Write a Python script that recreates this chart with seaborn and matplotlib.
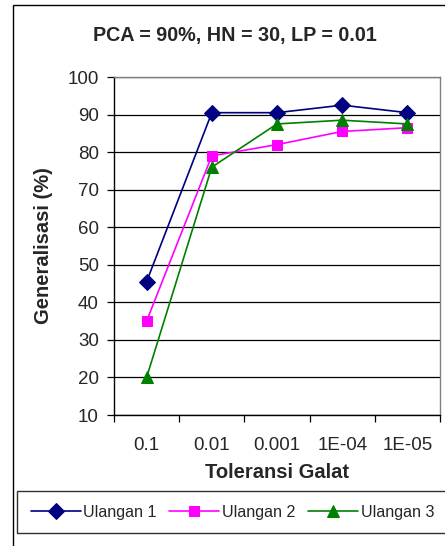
import matplotlib
matplotlib.use("Agg")
import matplotlib.pyplot as plt
from matplotlib.patches import Rectangle
from matplotlib.ticker import FixedLocator, NullFormatter
import seaborn as sns

# Error tolerance settings (x axis) and generalisation results per repetition
tolerances = ["0.1", "0.01", "0.001", "1E-04", "1E-05"]
ulangan_1 = [45.5, 90.5, 90.5, 92.5, 90.5]
ulangan_2 = [35.0, 79.0, 82.0, 85.5, 86.5]
ulangan_3 = [20.0, 76.0, 87.5, 88.5, 87.5]
series_names = ["Ulangan 1", "Ulangan 2", "Ulangan 3"]
y_ticks = [10, 20, 30, 40, 50, 60, 70, 80, 90, 100]

sns.set_style("white")
plt.rcParams["font.family"] = ["Liberation Sans", "DejaVu Sans"]

W, H = 445, 546
fig = plt.figure(figsize=(W / 100, H / 100), dpi=100)
ax = fig.add_axes([114 / W, 1 - 415 / H, (440 - 114) / W, (415 - 77) / H])

xpos = list(range(len(tolerances)))
styles = [
    (ulangan_1, "#000080", "D", 8.5),
    (ulangan_2, "#FF00FF", "s", 7.5),
    (ulangan_3, "#008000", "^", 9.0),
]
for (vals, color, marker, ms), name in zip(styles, series_names):
    sns.lineplot(x=xpos, y=vals, ax=ax, color=color, marker=marker,
                 markersize=ms, markeredgecolor=color, markerfacecolor=color,
                 linewidth=1.2, label=name, legend=False, zorder=3)

# Axes limits, gridlines and category ticks between the points
ax.set_xlim(-0.5, len(tolerances) - 0.5)
ax.set_ylim(10, 100)
ax.set_yticks(y_ticks)
ax.yaxis.grid(True, color="black", linewidth=0.9)
ax.xaxis.grid(False)
ax.set_axisbelow(True)

ax.xaxis.set_major_locator(FixedLocator([i - 0.5 for i in range(len(tolerances) + 1)]))
ax.xaxis.set_major_formatter(NullFormatter())
ax.xaxis.set_minor_locator(FixedLocator(xpos))
ax.set_xticklabels(tolerances, minor=True)
ax.tick_params(axis="x", which="major", direction="out", length=5, width=0.9,
               color="black", bottom=True)
ax.tick_params(axis="x", which="minor", length=0, pad=16, labelsize=13.5)
ax.tick_params(axis="y", direction="out", length=5, width=0.9, color="black",
               left=True, pad=6, labelsize=13.5)

for side in ["left", "bottom"]:
    ax.spines[side].set_color("black")
    ax.spines[side].set_linewidth(1.0)
for side in ["top", "right"]:
    ax.spines[side].set_visible(True)
    ax.spines[side].set_color("#808080")
    ax.spines[side].set_linewidth(1.0)

ax.set_xlabel("Toleransi Galat", fontsize=14.5, fontweight="bold", labelpad=6)
ax.set_ylabel("Generalisasi (%)", fontsize=14.5, fontweight="bold", labelpad=10)

fig.text(235 / W, 1 - 35 / H, "PCA = 90%, HN = 30, LP = 0.01",
         ha="center", va="center", fontsize=14.2, fontweight="bold")

# Legend below the axis title
handles = ax.get_lines()[:3]
leg = fig.legend(handles, series_names, loc="upper left",
                 bbox_to_anchor=(17 / W, 1 - 491 / H), borderaxespad=0,
                 ncol=3, fontsize=11.6, frameon=True, fancybox=False,
                 edgecolor="#303030", framealpha=1, handlelength=3.1,
                 handletextpad=0.15, columnspacing=0.8, borderpad=0.85)
leg.get_frame().set_linewidth(1.0)

# Outer chart border
fig.patches.append(Rectangle((13 / W, -0.05), 1.0, 1 - 5 / H + 0.05,
                             transform=fig.transFigure, fill=False,
                             edgecolor="black", linewidth=1.0))

fig.savefig("out.png", dpi=100)
